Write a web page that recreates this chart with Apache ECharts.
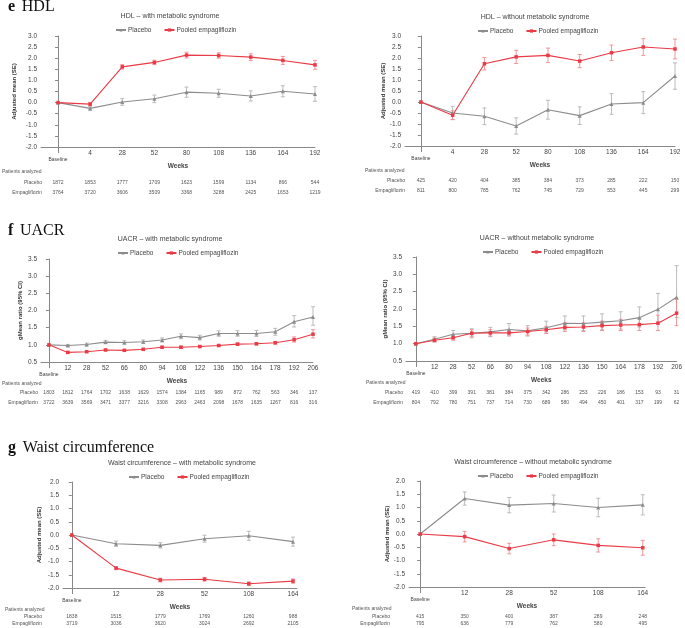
<!DOCTYPE html>
<html>
<head>
<meta charset="utf-8">
<script src="https://cdn.jsdelivr.net/npm/echarts@6/dist/echarts.min.js"></script>
<style>html,body{margin:0;padding:0;background:#fff}#c{width:685px;height:628px}</style>
</head>
<body>
<div id="c"></div>
<script>
// ---------- DATA ----------
const hdlWeeks = ['Baseline','4','28','52','80','108','136','164','192'];
const hdlMetPlacebo   = [0, -0.26, 0.03, 0.17, 0.47, 0.42, 0.30, 0.51, 0.39];
const hdlMetPlaceboSE = [0, 0.10, 0.15, 0.17, 0.23, 0.18, 0.23, 0.25, 0.33];
const hdlMetEmpa      = [0, -0.07, 1.61, 1.81, 2.14, 2.12, 2.05, 1.90, 1.70];
const hdlMetEmpaSE    = [0, 0.08, 0.10, 0.10, 0.13, 0.12, 0.15, 0.18, 0.20];
const hdlNoPlacebo    = [0, -0.50, -0.65, -1.09, -0.35, -0.62, -0.09, -0.03, 1.18];
const hdlNoPlaceboSE  = [0, 0.30, 0.38, 0.37, 0.43, 0.40, 0.47, 0.50, 0.60];
const hdlNoEmpa       = [0, -0.60, 1.74, 2.05, 2.12, 1.86, 2.24, 2.50, 2.41];
const hdlNoEmpaSE     = [0, 0.20, 0.28, 0.30, 0.33, 0.30, 0.35, 0.38, 0.45];
const hdlMetNPlacebo  = [1872, 1853, 1777, 1709, 1623, 1599, 1134, 866, 544];
const hdlMetNEmpa     = [3764, 3720, 3606, 3509, 3368, 3288, 2425, 1653, 1219];
const hdlNoNPlacebo   = [425, 420, 404, 385, 384, 373, 285, 222, 150];
const hdlNoNEmpa      = [811, 800, 785, 762, 745, 729, 553, 445, 299];

const uacrWeeks = ['Baseline','12','28','52','66','80','94','108','122','136','150','164','178','192','206'];
const uacrMetPlacebo   = [1.0, 0.98, 1.01, 1.08, 1.07, 1.09, 1.14, 1.25, 1.21, 1.33, 1.33, 1.33, 1.38, 1.67, 1.81];
const uacrMetPlaceboLo = [1.0, 0.95, 0.97, 1.03, 1.02, 1.04, 1.08, 1.18, 1.14, 1.25, 1.25, 1.24, 1.28, 1.52, 1.57];
const uacrMetPlaceboHi = [1.0, 1.01, 1.05, 1.13, 1.12, 1.14, 1.20, 1.32, 1.28, 1.41, 1.41, 1.42, 1.48, 1.85, 2.11];
const uacrMetEmpa      = [1.0, 0.78, 0.80, 0.85, 0.84, 0.87, 0.93, 0.93, 0.95, 0.98, 1.02, 1.03, 1.06, 1.15, 1.31];
const uacrMetEmpaLo    = [1.0, 0.76, 0.78, 0.83, 0.82, 0.85, 0.90, 0.90, 0.92, 0.95, 0.99, 1.00, 1.02, 1.08, 1.20];
const uacrMetEmpaHi    = [1.0, 0.80, 0.82, 0.87, 0.86, 0.89, 0.96, 0.96, 0.98, 1.01, 1.05, 1.06, 1.10, 1.23, 1.44];
const uacrNoPlacebo    = [1.0, 1.13, 1.27, 1.30, 1.34, 1.41, 1.37, 1.46, 1.59, 1.58, 1.62, 1.66, 1.75, 1.99, 2.34];
const uacrNoPlaceboLo  = [1.0, 1.05, 1.15, 1.17, 1.20, 1.25, 1.22, 1.30, 1.40, 1.38, 1.40, 1.42, 1.48, 1.62, 1.75];
const uacrNoPlaceboHi  = [1.0, 1.20, 1.38, 1.43, 1.47, 1.58, 1.52, 1.65, 1.80, 1.80, 1.86, 1.92, 2.06, 2.45, 3.25];
const uacrNoEmpa       = [1.0, 1.10, 1.17, 1.30, 1.31, 1.31, 1.35, 1.40, 1.47, 1.48, 1.52, 1.54, 1.55, 1.59, 1.88];
const uacrNoEmpaLo     = [1.0, 1.05, 1.10, 1.20, 1.22, 1.22, 1.25, 1.30, 1.35, 1.35, 1.38, 1.38, 1.38, 1.38, 1.52];
const uacrNoEmpaHi     = [1.0, 1.16, 1.25, 1.40, 1.40, 1.40, 1.45, 1.50, 1.60, 1.60, 1.65, 1.70, 1.72, 1.82, 2.28];
const uacrMetNPlacebo  = [1803, 1812, 1764, 1702, 1638, 1629, 1574, 1384, 1165, 989, 872, 762, 563, 346, 137];
const uacrMetNEmpa     = [3722, 3639, 3569, 3471, 3377, 3216, 3308, 2963, 2463, 2098, 1678, 1635, 1267, 816, 316];
const uacrNoNPlacebo   = [419, 410, 399, 391, 381, 384, 375, 342, 286, 253, 226, 186, 153, 93, 31];
const uacrNoNEmpa      = [804, 792, 780, 751, 737, 714, 730, 689, 580, 494, 450, 401, 317, 199, 62];

const waistWeeks = ['Baseline','12','28','52','108','164'];
const waistMetPlacebo   = [0, -0.33, -0.39, -0.14, -0.03, -0.25];
const waistMetPlaceboSE = [0, 0.10, 0.10, 0.13, 0.17, 0.17];
const waistMetEmpa      = [0, -1.25, -1.70, -1.67, -1.84, -1.74];
const waistMetEmpaSE    = [0, 0.06, 0.07, 0.07, 0.07, 0.08];
const waistNoPlacebo    = [0, 1.34, 1.09, 1.15, 1.00, 1.10];
const waistNoPlaceboSE  = [0, 0.25, 0.29, 0.32, 0.35, 0.38];
const waistNoEmpa       = [0, -0.10, -0.55, -0.22, -0.43, -0.52];
const waistNoEmpaSE     = [0, 0.20, 0.20, 0.22, 0.25, 0.28];
const waistMetNPlacebo  = [1838, 1515, 1779, 1769, 1260, 988];
const waistMetNEmpa     = [3719, 3036, 3620, 3024, 2692, 2105];
const waistNoNPlacebo   = [415, 350, 400, 387, 289, 248];
const waistNoNEmpa      = [795, 636, 779, 762, 580, 495];

// ---------- CHART ----------
const FONT = 'Liberation Sans';
const C_PLA = '#8c8c8c', C_PLA_ERR = '#b4b4b4';
const C_EMP = '#ea3a46', C_EMP_ERR = '#f18a90';

const panels = [
  {title:'HDL – with metabolic syndrome', tx:170, ty:17, lx:115, ly:30, grid:{left:41, top:36, width:274, height:111},
   xmin:-0.53, xmax:8, ymin:-2, ymax:3, yname:'Adjusted mean (SE)', ygap:24, wgap:15,
   weeks:hdlWeeks, pla:hdlMetPlacebo, plaLo:hdlMetPlacebo.map((v,i)=>v-hdlMetPlaceboSE[i]), plaHi:hdlMetPlacebo.map((v,i)=>v+hdlMetPlaceboSE[i]),
   emp:hdlMetEmpa, empLo:hdlMetEmpa.map((v,i)=>v-hdlMetEmpaSE[i]), empHi:hdlMetEmpa.map((v,i)=>v+hdlMetEmpaSE[i]),
   nP:hdlMetNPlacebo, nE:hdlMetNEmpa, off1:36, off2:46, pa:{x:2,y:172}, rowR:42},
  {title:'HDL – without metabolic syndrome', tx:535, ty:18, lx:477, ly:31, grid:{left:405, top:36, width:270, height:110},
   xmin:-0.5, xmax:8, ymin:-2, ymax:3, yname:'Adjusted mean (SE)', ygap:18, wgap:15,
   weeks:hdlWeeks, pla:hdlNoPlacebo, plaLo:hdlNoPlacebo.map((v,i)=>v-hdlNoPlaceboSE[i]), plaHi:hdlNoPlacebo.map((v,i)=>v+hdlNoPlaceboSE[i]),
   emp:hdlNoEmpa, empLo:hdlNoEmpa.map((v,i)=>v-hdlNoEmpaSE[i]), empHi:hdlNoEmpa.map((v,i)=>v+hdlNoEmpaSE[i]),
   nP:hdlNoNPlacebo, nE:hdlNoNEmpa, off1:35, off2:45, pa:{x:365,y:171}, rowR:405},
  {title:'UACR – with metabolic syndrome', tx:170, ty:240, lx:117, ly:253, grid:{left:41, top:259, width:272, height:103},
   xmin:-0.42, xmax:14, ymin:0.5, ymax:3.5, yname:'gMean ratio (95% CI)', ygap:18, wgap:14,
   weeks:uacrWeeks, pla:uacrMetPlacebo, plaLo:uacrMetPlaceboLo, plaHi:uacrMetPlaceboHi,
   emp:uacrMetEmpa, empLo:uacrMetEmpaLo, empHi:uacrMetEmpaHi,
   nP:uacrMetNPlacebo, nE:uacrMetNEmpa, off1:31, off2:41, pa:{x:2,y:384}, rowR:38},
  {title:'UACR – without metabolic syndrome', tx:537, ty:239, lx:482, ly:252, grid:{left:406, top:257, width:275, height:104},
   xmin:-0.53, xmax:14, ymin:0.5, ymax:3.5, yname:'gMean ratio (95% CI)', ygap:18, wgap:14,
   weeks:uacrWeeks, pla:uacrNoPlacebo, plaLo:uacrNoPlaceboLo, plaHi:uacrNoPlaceboHi,
   emp:uacrNoEmpa, empLo:uacrNoEmpaLo, empHi:uacrNoEmpaHi,
   nP:uacrNoNPlacebo, nE:uacrNoNEmpa, off1:32, off2:42, pa:{x:366,y:383}, rowR:403},
  {title:'Waist circumference – with metabolic syndrome', tx:182, ty:464, lx:128, ly:477, grid:{left:63, top:482, width:234, height:106},
   xmin:-0.2, xmax:5.09, ymin:-2, ymax:2, yname:'Adjusted mean (SE)', ygap:21, wgap:14,
   weeks:waistWeeks, pla:waistMetPlacebo, plaLo:waistMetPlacebo.map((v,i)=>v-waistMetPlaceboSE[i]), plaHi:waistMetPlacebo.map((v,i)=>v+waistMetPlaceboSE[i]),
   emp:waistMetEmpa, empLo:waistMetEmpa.map((v,i)=>v-waistMetEmpaSE[i]), empHi:waistMetEmpa.map((v,i)=>v+waistMetEmpaSE[i]),
   nP:waistMetNPlacebo, nE:waistMetNEmpa, off1:29, off2:36, pa:{x:5,y:610}, rowR:42},
  {title:'Waist circumference – without metabolic syndrome', tx:533, ty:463, lx:477, ly:476, grid:{left:409, top:481, width:236, height:106},
   xmin:-0.25, xmax:5.05, ymin:-2, ymax:2, yname:'Adjusted mean (SE)', ygap:19, wgap:14,
   weeks:waistWeeks, pla:waistNoPlacebo, plaLo:waistNoPlacebo.map((v,i)=>v-waistNoPlaceboSE[i]), plaHi:waistNoPlacebo.map((v,i)=>v+waistNoPlaceboSE[i]),
   emp:waistNoEmpa, empLo:waistNoEmpa.map((v,i)=>v-waistNoEmpaSE[i]), empHi:waistNoEmpa.map((v,i)=>v+waistNoEmpaSE[i]),
   nP:waistNoNPlacebo, nE:waistNoNEmpa, off1:30, off2:37, pa:{x:352,y:609}, rowR:390}
];

function errRender(color) {
  return function (params, api) {
    const x = api.value(0), lo = api.value(1), hi = api.value(2);
    if (Math.abs(hi - lo) < 1e-9) return null;
    const a = api.coord([x, lo]), b = api.coord([x, hi]);
    const w = 2;
    const st = {stroke: color, lineWidth: 0.9};
    return {type:'group', children:[
      {type:'line', shape:{x1:a[0], y1:a[1], x2:b[0], y2:b[1]}, style:st},
      {type:'line', shape:{x1:a[0]-w, y1:a[1], x2:a[0]+w, y2:a[1]}, style:st},
      {type:'line', shape:{x1:b[0]-w, y1:b[1], x2:b[0]+w, y2:b[1]}, style:st}
    ]};
  };
}

const option = {
  animation:false,
  textStyle:{fontFamily:FONT},
  title:[], legend:[], grid:[], xAxis:[], yAxis:[], series:[], graphic:[]
};

panels.forEach((p, i) => {
  const idx = p.weeks.map((_, k) => k);
  option.title.push({text:p.title, left:p.tx, top:p.ty - 4, textAlign:'center', padding:0,
    textStyle:{fontSize:7, fontWeight:'normal', color:'#444', fontFamily:FONT}});
  option.legend.push({data:['Placebo','Pooled empagliflozin'], left:p.lx, top:p.ly - 3.5, itemWidth:10, itemHeight:4, itemGap:12,
    textStyle:{fontSize:6.5, color:'#444', fontFamily:FONT, padding:[0,0,0,-3]}, padding:0});
  option.grid.push(Object.assign({containLabel:false}, p.grid));
  // main x axis
  option.xAxis.push({type:'value', gridIndex:i, min:p.xmin, max:p.xmax,
    axisLine:{onZero:false, lineStyle:{color:'#888', width:1}},
    splitLine:{show:false},
    axisTick:{customValues:[0], length:6, lineStyle:{color:'#888'}},
    axisLabel:{customValues:idx, fontSize:6.5, color:'#444', margin:3,
      formatter:v => { const k = Math.round(v); return k === 0 ? '{b|Baseline}' : p.weeks[k]; },
      rich:{b:{fontSize:5, color:'#444', padding:[7,0,0,0]}}},
    name:'Weeks', nameLocation:'middle', nameGap:p.wgap,
    nameTextStyle:{fontSize:6.5, fontWeight:'bold', color:'#444'}});
  // placebo counts row
  option.xAxis.push({type:'value', gridIndex:i, min:p.xmin, max:p.xmax, position:'bottom', offset:p.off1,
    axisLine:{show:false, onZero:false}, axisTick:{show:false}, splitLine:{show:false},
    axisLabel:{customValues:idx, fontSize:5, color:'#555', margin:0, verticalAlign:'middle',
      formatter:v => String(p.nP[Math.round(v)])}});
  // empagliflozin counts row
  option.xAxis.push({type:'value', gridIndex:i, min:p.xmin, max:p.xmax, position:'bottom', offset:p.off2,
    axisLine:{show:false, onZero:false}, axisTick:{show:false}, splitLine:{show:false},
    axisLabel:{customValues:idx, fontSize:5, color:'#555', margin:0, verticalAlign:'middle',
      formatter:v => String(p.nE[Math.round(v)])}});
  option.yAxis.push({type:'value', gridIndex:i, min:p.ymin, max:p.ymax, interval:0.5,
    axisLine:{show:true, lineStyle:{color:'#888'}}, axisTick:{show:true, length:3, lineStyle:{color:'#888'}},
    splitLine:{show:false},
    axisLabel:{fontSize:6.5, color:'#444', margin:4, formatter:v => v.toFixed(1)},
    name:p.yname, nameLocation:'middle', nameGap:p.ygap,
    nameTextStyle:{fontSize:6, fontWeight:'bold', color:'#333'}});

  const xa = i * 3, ya = i;
  option.series.push({type:'custom', name:'Placebo CI', xAxisIndex:xa, yAxisIndex:ya, silent:true,
    renderItem:errRender(C_PLA_ERR), data:idx.map(k => [k, p.plaLo[k], p.plaHi[k]]), z:1});
  option.series.push({type:'custom', name:'Empa CI', xAxisIndex:xa, yAxisIndex:ya, silent:true,
    renderItem:errRender(C_EMP_ERR), data:idx.map(k => [k, p.empLo[k], p.empHi[k]]), z:1});
  option.series.push({type:'line', name:'Placebo', xAxisIndex:xa, yAxisIndex:ya,
    data:idx.map(k => [k, p.pla[k]]), symbol:'triangle', symbolSize:4, showAllSymbol:true,
    color:C_PLA, lineStyle:{width:1.1, color:C_PLA}, itemStyle:{color:C_PLA}, z:3});
  option.series.push({type:'line', name:'Pooled empagliflozin', xAxisIndex:xa, yAxisIndex:ya,
    data:idx.map(k => [k, p.emp[k]]), symbol:'rect', symbolSize:3.5, showAllSymbol:true,
    color:C_EMP, lineStyle:{width:1.1, color:C_EMP}, itemStyle:{color:C_EMP}, z:3});

  const gb = p.grid.top + p.grid.height;
  option.graphic.push({type:'text', x:p.pa.x, y:p.pa.y,
    style:{text:'Patients analyzed', fontSize:5, fill:'#555', fontFamily:FONT, verticalAlign:'middle'}});
  option.graphic.push({type:'text', x:p.rowR, y:gb + p.off1,
    style:{text:'Placebo', fontSize:5, fill:'#555', fontFamily:FONT, align:'right', verticalAlign:'middle'}});
  option.graphic.push({type:'text', x:p.rowR, y:gb + p.off2,
    style:{text:'Empagliflozin', fontSize:5, fill:'#555', fontFamily:FONT, align:'right', verticalAlign:'middle'}});
});

// panel headings
[['e','HDL',7],['f','UACR',231],['g','Waist circumference',448]].forEach(h => {
  option.graphic.push({type:'text', x:8, y:h[2],
    style:{text:'{b|' + h[0] + '}  {n|' + h[1] + '}', verticalAlign:'middle',
      rich:{b:{fontSize:16, fontWeight:'bold', fontFamily:'Liberation Serif', fill:'#111'},
            n:{fontSize:16, fontFamily:'Liberation Serif', fill:'#111'}}}});
});

const chart = echarts.init(document.getElementById('c'), null, {renderer:'canvas'});
chart.setOption(option);
</script>
</body>
</html>
